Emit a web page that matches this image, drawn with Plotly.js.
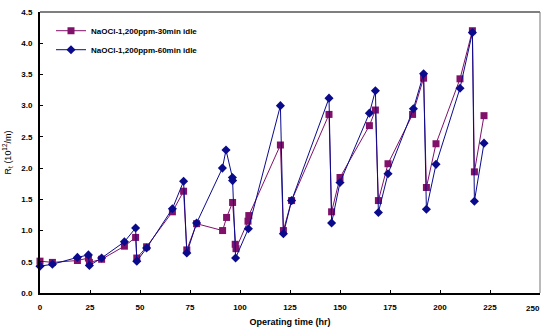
<!DOCTYPE html>
<html><head><meta charset="utf-8">
<script src="https://cdn.plot.ly/plotly-3.0.1.min.js"></script>
<style>html,body{margin:0;padding:0;background:#fff;}</style>
</head><body>
<div id="chart" style="width:542px;height:331px;"></div>
<script>
const seriesNames = ["NaOCl-1,200ppm-30min idle", "NaOCl-1,200ppm-60min idle"];
const time30 = [0, 6.2, 18.7, 24.2, 24.7, 30.8, 42.2, 47.8, 48.4, 53.3, 66.2, 71.8, 73.4, 78.3, 91.3, 93.3, 96.3, 97.6, 98.0, 104.0, 104.4, 120.2, 121.7, 125.8, 144.5, 145.8, 150.0, 164.7, 167.7, 169.2, 174.0, 186.3, 191.8, 193.2, 198.0, 210.0, 216.2, 217.2, 222.0];
const rt30 = [0.51, 0.49, 0.52, 0.56, 0.49, 0.54, 0.75, 0.89, 0.56, 0.74, 1.30, 1.63, 0.69, 1.11, 1.00, 1.21, 1.45, 0.78, 0.71, 1.15, 1.24, 2.37, 1.00, 1.48, 2.86, 1.30, 1.85, 2.68, 2.93, 1.48, 2.07, 2.86, 3.44, 1.69, 2.39, 3.43, 4.20, 1.94, 2.84];
const time60 = [0, 6.2, 18.7, 24.2, 24.7, 30.8, 42.2, 47.8, 48.4, 53.3, 66.2, 71.8, 73.4, 78.3, 91.2, 93.0, 96.2, 96.3, 97.8, 104.2, 120.2, 121.7, 125.8, 144.5, 145.8, 150.0, 164.7, 167.7, 169.2, 174.0, 186.7, 191.8, 193.2, 198.0, 210.0, 216.2, 217.2, 222.0];
const rt60 = [0.43, 0.46, 0.57, 0.61, 0.44, 0.56, 0.82, 1.04, 0.51, 0.72, 1.35, 1.79, 0.64, 1.12, 2.00, 2.29, 1.85, 1.80, 0.56, 1.03, 3.00, 0.95, 1.48, 3.12, 1.12, 1.77, 2.88, 3.24, 1.29, 1.91, 2.95, 3.51, 1.34, 2.06, 3.28, 4.17, 1.47, 2.40];
const xTicks = [0, 25, 50, 75, 100, 125, 150, 175, 200, 225, 250];
const yTicks = [0, 0.5, 1.0, 1.5, 2.0, 2.5, 3.0, 3.5, 4.0, 4.5];

const FONT = "'Liberation Sans Narrow', 'Arial Narrow', 'Liberation Sans', Arial, sans-serif";
const traces = [
  {x: time30, y: rt30, name: seriesNames[0], mode: "lines+markers", type: "scatter", cliponaxis: false,
   line: {color: "#80106A", width: 1}, marker: {symbol: "square", size: 7, color: "#80106A"}},
  {x: time60, y: rt60, name: seriesNames[1], mode: "lines+markers", type: "scatter", cliponaxis: false,
   line: {color: "#0A0A8C", width: 1}, marker: {symbol: "diamond", size: 7, color: "#0A0A8C"}}
];
const lastTick = xTicks[xTicks.length - 1];
const layout = {
  width: 542, height: 331,
  margin: {l: 40, r: 2, t: 12, b: 38},
  paper_bgcolor: "#fff", plot_bgcolor: "#fff",
  font: {family: FONT, size: 9, color: "#000"},
  showlegend: true,
  legend: {x: 0.022, y: 0.985, xanchor: "left", yanchor: "top", bgcolor: "rgba(0,0,0,0)",
           font: {family: FONT, size: 8, color: "#000", weight: "bold"}, tracegroupgap: 6, itemwidth: 30},
  xaxis: {range: [0, 250], tickvals: xTicks, ticktext: xTicks.map(String), showgrid: false, zeroline: false,
          showline: true, linecolor: "#000", linewidth: 2, ticks: "inside", ticklen: 3, tickcolor: "#000",
          ticklabelstandoff: 5,
          tickfont: {family: FONT, size: 8, weight: "bold"},
          title: {text: "Operating time (hr)", font: {family: FONT, size: 9, weight: "bold"}, standoff: 8}},
  yaxis: {range: [0, 4.5], tickvals: yTicks, ticktext: yTicks.map(v => v.toFixed(1)), showgrid: false, zeroline: false,
          showline: true, linecolor: "#000", linewidth: 2, ticks: "inside", ticklen: 3, tickcolor: "#000",
          ticklabelstandoff: 4,
          tickfont: {family: FONT, size: 8, weight: "bold"},
          title: {text: "R<sub>t</sub> (10<sup>12</sup>/m)", font: {family: FONT, size: 9}, standoff: 8}},
  annotations: [
    {x: lastTick, xref: "x", y: 0, yref: "paper", yshift: -9, xshift: 2, text: String(lastTick), showarrow: false,
     xanchor: "right", yanchor: "top", font: {family: FONT, size: 8, weight: "bold", color: "#000"}}
  ],
  shapes: [
    {type: "line", xref: "paper", yref: "paper", x0: 0, x1: 1, y0: 1, y1: 1, line: {color: "#555", width: 1.5}},
    {type: "line", xref: "paper", yref: "paper", x0: 1, x1: 1, y0: 0, y1: 1, line: {color: "#777", width: 1}}
  ]
};
Plotly.newPlot("chart", traces, layout, {staticPlot: true, displayModeBar: false});
</script>
</body></html>
